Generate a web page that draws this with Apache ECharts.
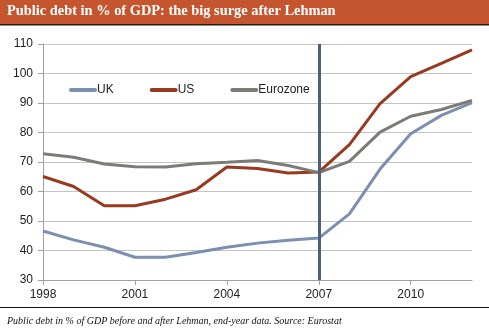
<!DOCTYPE html>
<html>
<head>
<meta charset="utf-8">
<script src="https://cdn.jsdelivr.net/npm/echarts@6/dist/echarts.min.js"></script>
<style>
  html, body { margin: 0; padding: 0; background: #fff; }
  #chart { width: 489px; height: 334px; }
</style>
</head>
<body>
<div id="chart"></div>
<script>
// Public debt, % of GDP, end-year values
const years = ['1998','1999','2000','2001','2002','2003','2004','2005','2006','2007','2008','2009','2010','2011','2012'];
const ukDebt = [46.6, 43.6, 41.1, 37.7, 37.7, 39.3, 41.1, 42.5, 43.5, 44.2, 52.4, 67.6, 79.6, 85.8, 90.1];
const usDebt = [65.1, 61.7, 55.2, 55.2, 57.4, 60.6, 68.3, 67.8, 66.3, 66.6, 75.9, 89.8, 98.9, 103.4, 108.0];
const ezDebt = [72.8, 71.6, 69.3, 68.4, 68.3, 69.4, 69.9, 70.5, 68.8, 66.4, 70.2, 80.1, 85.5, 87.8, 90.9];
const lehmanYear = '2007';

const chart = echarts.init(document.getElementById('chart'), null, { renderer: 'canvas' });

const lineSeries = (name, data, color) => ({
  name, type: 'line', data,
  symbol: 'none',
  lineStyle: { width: 3, color },
  itemStyle: { color },
  z: 3
});

// legend swatch: a short thick bar with rounded ends
const barIcon = 'path://M2,0 L26,0 A2,2 0 0 1 26,4 L2,4 A2,2 0 0 1 2,0 Z';

chart.setOption({
  animation: false,
  backgroundColor: '#fff',
  grid: { left: 43, right: 17, top: 44, bottom: 54 },
  legend: {
    left: 69, top: 84, padding: 0,
    itemWidth: 28, itemHeight: 4, itemGap: 36,
    icon: barIcon,
    textStyle: { fontFamily: 'Liberation Sans', fontSize: 12, color: '#222', padding: [0, 0, 0, -5] },
    data: ['UK', 'US', 'Eurozone']
  },
  xAxis: {
    type: 'category',
    data: years,
    boundaryGap: false,
    axisLine: { lineStyle: { color: '#a0a0a0', width: 1 } },
    axisTick: { interval: 2, length: 5, lineStyle: { color: '#a0a0a0' } },
    axisLabel: { interval: 2, margin: 9, fontFamily: 'Liberation Sans', fontSize: 12, color: '#222' },
    splitLine: { show: false }
  },
  yAxis: {
    type: 'value',
    min: 30, max: 110, interval: 10,
    axisLine: { show: true, lineStyle: { color: '#a0a0a0', width: 1 } },
    axisTick: { show: true, length: 5, lineStyle: { color: '#a0a0a0' } },
    axisLabel: { margin: 10, fontFamily: 'Liberation Sans', fontSize: 12, color: '#222' },
    splitLine: { lineStyle: { color: '#c4c4c4', width: 1 } }
  },
  series: [
    lineSeries('UK', ukDebt, '#7b8fb0'),
    Object.assign(lineSeries('US', usDebt, '#973a1f'), {
      markLine: {
        silent: true, symbol: 'none',
        label: { show: false },
        lineStyle: { color: '#4d5f7c', width: 3, type: 'solid' },
        data: [{ xAxis: lehmanYear }]
      }
    }),
    lineSeries('Eurozone', ezDebt, '#7d7b76')
  ],
  graphic: [
    { type: 'rect', shape: { x: 0, y: 0, width: 489, height: 24 }, style: { fill: '#c4552f' }, z: 10 },
    { type: 'rect', shape: { x: 0, y: 24, width: 489, height: 1.5 }, style: { fill: '#2a1a14' }, z: 10 },
    { type: 'text', left: 7, top: 4, z: 11,
      style: { text: 'Public debt in % of GDP: the big surge after Lehman', fill: '#fff',
               font: 'bold 14.4px "Liberation Serif"' } },
    { type: 'rect', shape: { x: 0, y: 307, width: 489, height: 1 }, style: { fill: '#111' }, z: 10 },
    { type: 'text', left: 7, top: 316, z: 11,
      style: { text: 'Public debt in % of GDP before and after Lehman, end-year data. Source: Eurostat', fill: '#111',
               font: 'italic 10px "Liberation Serif"' } }
  ]
});
</script>
</body>
</html>
